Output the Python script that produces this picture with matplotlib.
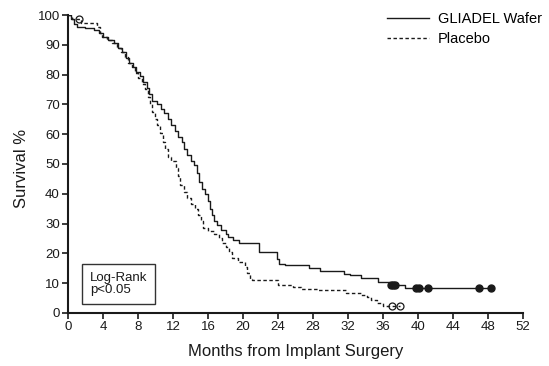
import numpy as np
import matplotlib.pyplot as plt

plt.rcParams['font.family'] = ['Liberation Sans', 'DejaVu Sans']

# ─── Data ────────────────────────────────────────────────────────────────────
# GLIADEL Wafer : step times (months) and survival (%) after each step
gliadel_t = [0, 0.3, 0.7, 1.0, 1.9, 3.0, 3.5, 4.0, 4.6, 5.2, 5.7, 6.2, 6.6,
             7.0, 7.4, 7.8, 8.2, 8.6, 9.0, 9.3, 9.6, 10.2, 10.6, 11.0, 11.4,
             11.8, 12.2, 12.6, 13.0, 13.3, 13.6, 14.0, 14.4, 14.7, 15.0, 15.3,
             15.7, 16.0, 16.2, 16.4, 16.7, 17.0, 17.5, 18.0, 18.3, 18.8, 19.5,
             21.8, 23.9, 24.1, 24.8, 27.5, 28.8, 31.5, 32.2, 33.5, 35.4, 36.7,
             38.5]
gliadel_s = [100, 98.5, 97, 96, 95.5, 95, 94, 92.5, 91.5, 90.5, 89, 87.5, 85.5,
             84, 82.5, 81, 79.5, 77.5, 75.5, 73.5, 71, 70, 68.5, 67, 65,
             63, 61, 59, 57.5, 55, 53, 51, 49.5, 47, 44, 41.5,
             40, 37.5, 35, 33, 31, 29.5, 28, 26.5, 25.5, 24.5, 23.5,
             20.5, 18, 16.5, 16, 15, 14.2, 13.2, 12.7, 11.7, 10.4, 9.5,
             8.3]
gliadel_end = 48.3
gliadel_cens = [36.9, 37.1, 37.3, 39.7, 40.1, 41.1, 46.9, 48.3]

# Placebo
placebo_t = [0, 0.4, 1.5, 3.3, 3.6, 3.9, 4.4, 5.0, 5.6, 6.1, 6.5, 6.9, 7.3,
             7.6, 8.0, 8.4, 8.8, 9.1, 9.4, 9.6, 9.9, 10.2, 10.5, 10.8, 11.1,
             11.4, 11.8, 12.3, 12.6, 12.8, 13.2, 13.6, 14.0, 14.5, 14.8, 15.2,
             15.4, 16.0, 16.7, 17.2, 17.6, 18.0, 18.4, 18.7, 19.4, 20.2, 20.5,
             20.8, 21.0, 24.0, 25.7, 26.6, 28.5, 31.8, 33.5, 34.2, 34.6, 35.3,
             36.0]
placebo_s = [100, 98.5, 97.3, 96, 94, 92.5, 91.5, 90.5, 89, 87.5, 86, 84, 82.5,
             80.5, 79, 77, 75, 72.5, 70, 67.5, 65, 63, 60.5, 57.5, 55,
             52.5, 51, 48.5, 46, 43, 40.5, 38.5, 36.5, 35, 33, 31,
             28.5, 27.5, 26.5, 25, 23.5, 22, 20.5, 18.5, 17, 15.5, 13.5,
             11.5, 11, 9.5, 8.8, 8.0, 7.6, 6.8, 6.0, 5.2, 4.4, 3.4,
             2.3]
placebo_end = 37.9
placebo_cens = [1.2, 37.0, 37.9]

x_ticks = np.arange(0, 53, 4)
y_ticks = np.arange(0, 101, 10)

COULEUR = "#1a1a1a"


def survie_a(temps, survie, t):
    """Valeur de la courbe en escalier au temps t."""
    idx = np.searchsorted(temps, t, side='right') - 1
    return np.array(survie)[idx]


# ─── Figure ──────────────────────────────────────────────────────────────────
fig = plt.figure(figsize=(5.49, 3.66), dpi=100)
ax = fig.add_axes([0.124, 0.145, 0.829, 0.814])

ax.step(gliadel_t + [gliadel_end], gliadel_s + [gliadel_s[-1]], where='post',
        color=COULEUR, lw=1.0, label="GLIADEL Wafer")
ax.step(placebo_t + [placebo_end], placebo_s + [placebo_s[-1]], where='post',
        color=COULEUR, lw=1.0, linestyle=(0, (2.5, 1.8)), label="Placebo")

ax.plot(gliadel_cens, survie_a(gliadel_t, gliadel_s, gliadel_cens), 'o',
        color=COULEUR, markersize=5, zorder=5)
ax.plot(placebo_cens, survie_a(placebo_t, placebo_s, placebo_cens), 'o',
        markerfacecolor='none', markeredgecolor=COULEUR, markersize=5,
        markeredgewidth=0.9, zorder=5)

ax.set_xlim(0, 52)
ax.set_ylim(0, 100)
ax.set_xticks(x_ticks)
ax.set_yticks(y_ticks)
ax.tick_params(direction='out', length=4, width=1.2, colors=COULEUR,
               labelsize=9.5, pad=2)
for side in ['top', 'right']:
    ax.spines[side].set_visible(False)
for side in ['left', 'bottom']:
    ax.spines[side].set_linewidth(1.5)
    ax.spines[side].set_color(COULEUR)

ax.set_xlabel("Months from Implant Surgery", fontsize=12, color=COULEUR,
              labelpad=8)
ax.set_ylabel("Survival %", fontsize=12, color=COULEUR)
ax.yaxis.set_label_coords(-0.085, 0.485)

ax.legend(loc='upper left', bbox_to_anchor=(0.705, 0.968),
          bbox_transform=fig.transFigure, frameon=False, fontsize=10.5,
          handlelength=2.9, handletextpad=0.6, labelspacing=0.45,
          borderpad=0, borderaxespad=0)

ax.text(0.048, 0.058, "Log-Rank\np<0.05", transform=ax.transAxes,
        fontsize=9.5, color=COULEUR, linespacing=1.0, va='bottom', ha='left',
        bbox=dict(boxstyle='square,pad=0.6', facecolor='white',
                  edgecolor='#333333', linewidth=1.0))

plt.savefig("out.png", dpi=100)
plt.close()
